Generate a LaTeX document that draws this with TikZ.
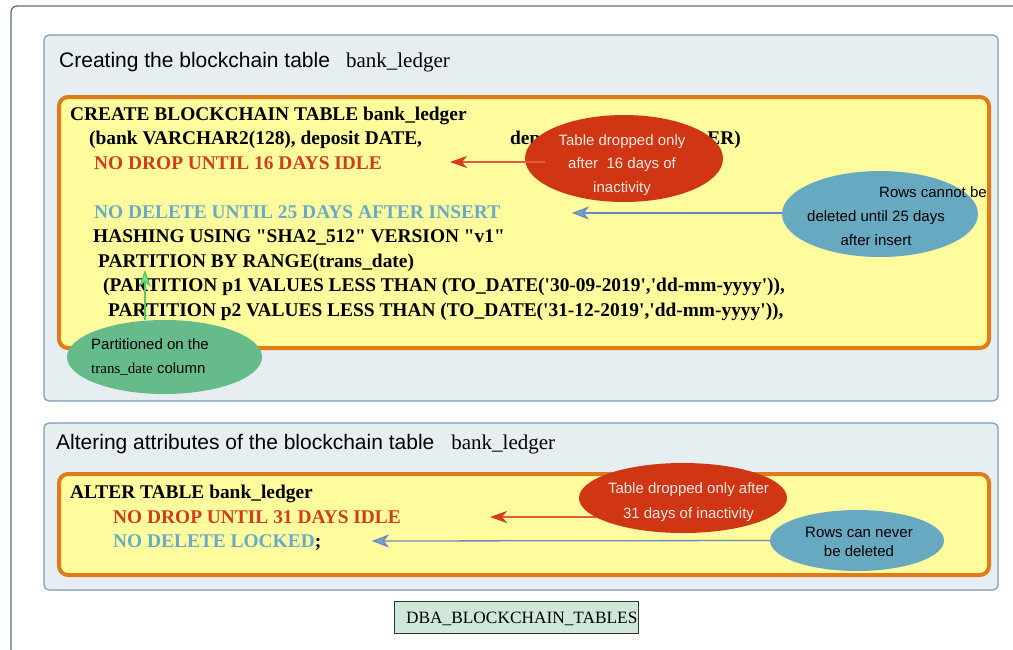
\documentclass[tikz,border=0pt]{standalone}
\usepackage{fontspec}
\setmainfont{Liberation Serif}
\newfontfamily\sansf{Liberation Sans}
\usetikzlibrary{arrows.meta,shapes.geometric}

\definecolor{panelfill}{RGB}{230,238,242}
\definecolor{paneldraw}{RGB}{125,155,176}
\definecolor{codefill}{RGB}{255,252,158}
\definecolor{codedraw}{RGB}{224,123,26}
\definecolor{dropred}{RGB}{208,54,20}
\definecolor{droptext}{RGB}{210,59,28}
\definecolor{dropline}{RGB}{228,90,60}
\definecolor{notewhite}{RGB}{250,232,226}
\definecolor{delblue}{RGB}{103,169,192}
\definecolor{deltext}{RGB}{106,170,200}
\definecolor{arrowblue}{RGB}{110,133,196}
\definecolor{partgreen}{RGB}{102,187,138}
\definecolor{arrowgreen}{RGB}{85,200,110}
\definecolor{headgreen}{RGB}{130,225,140}
\definecolor{viewfill}{RGB}{207,232,218}
\definecolor{framegray}{RGB}{95,110,125}

% straight quotes for the SQL literals
\newcommand{\q}{\textquotesingle}
\newcommand{\qq}{\textquotedbl}

\tikzset{
  panel/.style={draw=paneldraw, fill=panelfill, line width=1.2pt, rounded corners=5pt},
  codebox/.style={draw=codedraw, fill=codefill, line width=4pt, rounded corners=9pt},
  code/.style={anchor=base west, inner sep=0pt, font=\fontsize{19.4}{23}\selectfont\bfseries},
  title/.style={anchor=base west, inner sep=0pt, font=\sansf\fontsize{21}{25}\selectfont},
  bubble/.style={ellipse, inner sep=0pt},
  note/.style={anchor=base, inner sep=0pt, font=\sansf\fontsize{15}{18}\selectfont},
  redarrow/.style={draw=dropline, line width=1.3pt,
    -{Stealth[length=17pt,width=12pt,inset=5pt,color=droptext]}},
  bluearrow/.style={draw=arrowblue, line width=1.3pt,
    -{Stealth[length=17pt,width=13pt,inset=5pt,color=arrowblue,fill=deltext]}},
  greenarrow/.style={draw=arrowgreen, line width=1.3pt,
    -{Stealth[length=17pt,width=12pt,inset=5pt,color=arrowgreen,fill=headgreen]}},
}

\begin{document}
\begin{tikzpicture}[x=1pt,y=-1pt]
\useasboundingbox (0,0) rectangle (1013,649);
\clip (0,0) rectangle (1013,649);
\fill[white] (0,0) rectangle (1013,649);

% outer frame
\draw[framegray, line width=1.3pt, rounded corners=6pt] (11,6) rectangle (1030,670);

% ---------- creating the table ----------
\draw[panel] (44,35) rectangle (998,401);
\node[title] (t1) at (59,67) {Creating the blockchain table\hspace{16pt}{\rmfamily bank\_ledger}};
\draw[codebox] (59,97) rectangle (989,348);

\node[code] (c1) at (70,120) {CREATE BLOCKCHAIN TABLE bank\_ledger};
\node[code] (c2) at (89,144.5) {(bank VARCHAR2(128), deposit DATE,};
\node[code] (c2b) at (510,144.5) {dep};
\node[code, anchor=base east] (c2c) at (741,144.5) {ER)};
\node[code, text=droptext] (c3) at (94,169) {NO DROP UNTIL 16 DAYS IDLE};
\node[code, text=deltext] (c5) at (94,218) {NO DELETE UNTIL 25 DAYS AFTER INSERT};
\node[code] (c6) at (93,242.5) {HASHING USING \qq SHA2\_512\qq\ VERSION \qq v1\qq};
\node[code] (c7) at (98,267) {PARTITION BY RANGE(trans\_date)};
\node[code] (c8) at (103,291.5) {(PARTITION p1 VALUES LESS THAN (TO\_DATE(\q30-09-2019\q,\q dd-mm-yyyy\q)),};
\node[code] (c9) at (108,316) {PARTITION p2 VALUES LESS THAN (TO\_DATE(\q31-12-2019\q,\q dd-mm-yyyy\q)),};

% note: drop period
\node[bubble, fill=dropred, minimum width=198pt, minimum height=87pt] (drop1) at (624,158.5) {};
\node[note, text=notewhite] (drop1a) at (622,145) {Table dropped only};
\node[note, text=notewhite] (drop1b) at (622,168.5) {after\ \ 16 days of};
\node[note, text=notewhite] (drop1c) at (622,192) {inactivity};
\coordinate (drop1tail) at (545,162);
\coordinate (drop1tip) at (450,162);
\draw[redarrow] (drop1tail) -- (drop1tip);

% note: delete period
\node[bubble, fill=delblue, minimum width=196pt, minimum height=86pt] (del1) at (880,214) {};
\node[note, anchor=base west] (del1a) at (879,197) {Rows cannot be};
\node[note] (del1b) at (876,221) {deleted until 25 days};
\node[note] (del1c) at (876,245) {after insert};
\coordinate (del1tip) at (572,213);
\draw[bluearrow] (del1.west |- del1tip) -- (del1tip);

% note: partitioning column
\node[bubble, fill=partgreen, minimum width=195pt, minimum height=74pt] (part) at (164.5,357) {};
\node[note, anchor=base west] (parta) at (91,349) {Partitioned on the};
\node[note, anchor=base west] (partb) at (91,373) {{\rmfamily trans\_date} column};
\coordinate (parttip) at (145,270);
\draw[greenarrow] (part.north -| parttip) -- (parttip);

% ---------- altering the table ----------
\draw[panel] (44,423) rectangle (998,590);
\node[title] (t2) at (56,449) {Altering attributes of the blockchain table\hspace{17pt}{\rmfamily bank\_ledger}};
\draw[codebox] (59,474) rectangle (989,575);

\node[code] (a1) at (70,498) {ALTER TABLE bank\_ledger};
\node[code, text=droptext] (a2) at (113,523) {NO DROP UNTIL 31 DAYS IDLE};
\node[code] (a3) at (113,547.5) {\textcolor{deltext}{NO DELETE LOCKED};};

% note: new drop period
\coordinate (drop2tip) at (490,517);
\coordinate (del2tip) at (372,541);
\draw[redarrow] (600,517) coordinate (drop2tail) -- (drop2tip);
\node[bubble, fill=dropred, minimum width=208pt, minimum height=70pt] (drop2) at (683,498) {};
\node[note, text=notewhite] (drop2a) at (688.5,493) {Table dropped only after};
\node[note, text=notewhite] (drop2b) at (688.5,518) {31 days of inactivity};

% note: rows locked
\node[bubble, fill=delblue, minimum width=174pt, minimum height=61pt] (del2) at (857,540.5) {};
\node[note] (del2a) at (859,537) {Rows can never};
\node[note] (del2b) at (859,556) {be deleted};
\draw[bluearrow] (del2.west) -- (del2tip);

% ---------- view name ----------
\draw[draw=black!80, fill=viewfill, line width=1pt] (394,601) rectangle (638,633);
\node[anchor=base west, inner sep=0pt, font=\fontsize{17.3}{20}\selectfont] (view) at (406,623) {DBA\_BLOCKCHAIN\_TABLES};
\end{tikzpicture}
\end{document}
